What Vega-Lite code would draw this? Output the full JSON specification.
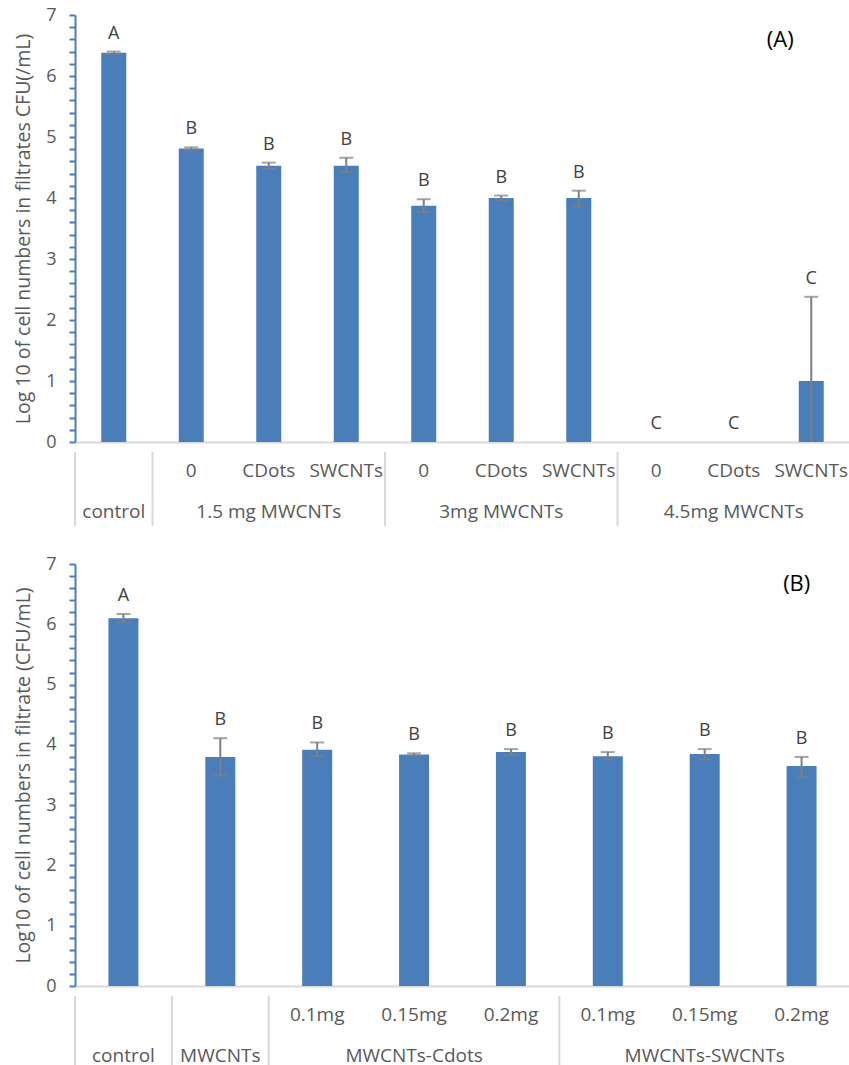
{
  "$schema": "https://vega.github.io/schema/vega-lite/v6.json",
  "autosize": {"type": "pad"},
  "padding": {"left": 13, "top": 6, "right": 0, "bottom": 0},
  "background": "white",
  "config": {
    "font": "Open Sans",
    "view": {"stroke": null}
  },
  "datasets": {
    "barsA": [
      {"cat": "control", "value": 6.38, "lo": 6.36, "hi": 6.40, "sig": "A"},
      {"cat": "1.5|0", "value": 4.81, "lo": 4.79, "hi": 4.83, "sig": "B"},
      {"cat": "1.5|CDots", "value": 4.53, "lo": 4.48, "hi": 4.58, "sig": "B"},
      {"cat": "1.5|SWCNTs", "value": 4.53, "lo": 4.42, "hi": 4.66, "sig": "B"},
      {"cat": "3|0", "value": 3.875, "lo": 3.77, "hi": 3.98, "sig": "B"},
      {"cat": "3|CDots", "value": 4.0, "lo": 3.96, "hi": 4.04, "sig": "B"},
      {"cat": "3|SWCNTs", "value": 4.0, "lo": 3.86, "hi": 4.12, "sig": "B"},
      {"cat": "4.5|0", "value": 0, "lo": 0, "hi": 0, "sig": "C"},
      {"cat": "4.5|CDots", "value": 0, "lo": 0, "hi": 0, "sig": "C"},
      {"cat": "4.5|SWCNTs", "value": 1.0, "lo": -0.38, "hi": 2.38, "sig": "C"}
    ],
    "tableA": [
      {"cat": "control", "level": "grp", "text": "control"},
      {"cat": "1.5|0", "level": "sub", "text": "0"},
      {"cat": "1.5|CDots", "level": "sub", "text": "CDots"},
      {"cat": "1.5|SWCNTs", "level": "sub", "text": "SWCNTs"},
      {"cat": "1.5|CDots", "level": "grp", "text": "1.5 mg MWCNTs"},
      {"cat": "3|0", "level": "sub", "text": "0"},
      {"cat": "3|CDots", "level": "sub", "text": "CDots"},
      {"cat": "3|SWCNTs", "level": "sub", "text": "SWCNTs"},
      {"cat": "3|CDots", "level": "grp", "text": "3mg MWCNTs"},
      {"cat": "4.5|0", "level": "sub", "text": "0"},
      {"cat": "4.5|CDots", "level": "sub", "text": "CDots"},
      {"cat": "4.5|SWCNTs", "level": "sub", "text": "SWCNTs"},
      {"cat": "4.5|CDots", "level": "grp", "text": "4.5mg MWCNTs"}
    ],
    "sepA": [
      {"cat": "control"}, {"cat": "1.5|0"}, {"cat": "3|0"}, {"cat": "4.5|0"}
    ],
    "barsB": [
      {"cat": "control", "value": 6.1, "lo": 6.03, "hi": 6.17, "sig": "A"},
      {"cat": "MWCNTs", "value": 3.8, "lo": 3.49, "hi": 4.11, "sig": "B"},
      {"cat": "Cdots|0.1", "value": 3.92, "lo": 3.81, "hi": 4.04, "sig": "B"},
      {"cat": "Cdots|0.15", "value": 3.84, "lo": 3.82, "hi": 3.86, "sig": "B"},
      {"cat": "Cdots|0.2", "value": 3.88, "lo": 3.83, "hi": 3.93, "sig": "B"},
      {"cat": "SW|0.1", "value": 3.81, "lo": 3.76, "hi": 3.88, "sig": "B"},
      {"cat": "SW|0.15", "value": 3.85, "lo": 3.76, "hi": 3.93, "sig": "B"},
      {"cat": "SW|0.2", "value": 3.65, "lo": 3.46, "hi": 3.8, "sig": "B"}
    ],
    "tableB": [
      {"cat": "control", "level": "grp", "text": "control"},
      {"cat": "MWCNTs", "level": "grp", "text": "MWCNTs"},
      {"cat": "Cdots|0.1", "level": "sub", "text": "0.1mg"},
      {"cat": "Cdots|0.15", "level": "sub", "text": "0.15mg"},
      {"cat": "Cdots|0.2", "level": "sub", "text": "0.2mg"},
      {"cat": "Cdots|0.15", "level": "grp", "text": "MWCNTs-Cdots"},
      {"cat": "SW|0.1", "level": "sub", "text": "0.1mg"},
      {"cat": "SW|0.15", "level": "sub", "text": "0.15mg"},
      {"cat": "SW|0.2", "level": "sub", "text": "0.2mg"},
      {"cat": "SW|0.15", "level": "grp", "text": "MWCNTs-SWCNTs"}
    ],
    "sepB": [
      {"cat": "control"}, {"cat": "MWCNTs"}, {"cat": "Cdots|0.1"}, {"cat": "SW|0.1"}
    ]
  },
  "spacing": 28,
  "vconcat": [
    {
      "spacing": 0,
      "vconcat": [
        {
          "width": 775,
          "height": 427,
          "data": {"name": "barsA"},
          "layer": [
            {
              "mark": {"type": "bar", "color": "#4a7ebb", "size": 25},
              "encoding": {
                "x": {"field": "cat", "type": "nominal", "sort": null,
                  "scale": {"domain": ["control", "1.5|0", "1.5|CDots", "1.5|SWCNTs", "3|0", "3|CDots", "3|SWCNTs", "4.5|0", "4.5|CDots", "4.5|SWCNTs"], "paddingInner": 0, "paddingOuter": 0},
                  "axis": {"labels": false, "ticks": false, "title": null, "domainColor": "#d9d9d9", "domainWidth": 2}},
                "y": {"field": "value", "type": "quantitative",
                  "scale": {"domain": [0, 7], "nice": false},
                  "axis": {
                    "title": "Log 10 of cell numbers in filtrates CFU(/mL)",
                    "values": [0, 0.2, 0.4, 0.6, 0.8, 1, 1.2, 1.4, 1.6, 1.8, 2, 2.2, 2.4, 2.6, 2.8, 3, 3.2, 3.4, 3.6, 3.8, 4, 4.2, 4.4, 4.6, 4.8, 5, 5.2, 5.4, 5.6, 5.8, 6, 6.2, 6.4, 6.6, 6.8, 7],
                    "tickCount": 100,
                    "labelExpr": "datum.value % 1 === 0 ? '' + datum.value : ''",
                    "labelOverlap": false,
                    "labelFlush": false,
                    "grid": false,
                    "domainColor": "#4a7ebb", "domainWidth": 2,
                    "tickColor": "#4a7ebb", "tickWidth": 2, "tickSize": 6,
                    "labelFontSize": 18, "labelColor": "#595959", "labelPadding": 13,
                    "titleFontSize": 19.5, "titleColor": "#595959", "titleFontWeight": "normal", "titlePadding": 12
                  }}
              }
            },
            {
              "transform": [{"filter": "datum.hi > datum.lo"}],
              "mark": {"type": "rule", "color": "#7f7f7f", "strokeWidth": 2, "clip": true},
              "encoding": {
                "x": {"field": "cat", "type": "nominal", "sort": null},
                "y": {"field": "lo", "type": "quantitative"},
                "y2": {"field": "hi"}
              }
            },
            {
              "transform": [{"filter": "datum.hi > datum.lo"}],
              "mark": {"type": "tick", "color": "#7f7f7f", "thickness": 2, "size": 14, "orient": "horizontal", "clip": true},
              "encoding": {
                "x": {"field": "cat", "type": "nominal", "sort": null},
                "y": {"field": "hi", "type": "quantitative"}
              }
            },
            {
              "transform": [{"filter": "datum.hi > datum.lo"}],
              "mark": {"type": "tick", "color": "#7f7f7f", "thickness": 2, "size": 14, "orient": "horizontal", "clip": true},
              "encoding": {
                "x": {"field": "cat", "type": "nominal", "sort": null},
                "y": {"field": "lo", "type": "quantitative"}
              }
            },
            {
              "mark": {"type": "text", "fontSize": 18, "color": "#404040", "baseline": "middle", "dy": -18},
              "encoding": {
                "x": {"field": "cat", "type": "nominal", "sort": null},
                "y": {"field": "hi", "type": "quantitative"},
                "text": {"field": "sig"}
              }
            },
            {
              "data": {"values": [{"panel": "(A)"}]},
              "mark": {"type": "text", "fontSize": 22, "color": "#000000", "baseline": "middle"},
              "encoding": {
                "x": {"datum": "4.5|SWCNTs", "type": "nominal", "bandPosition": 0.1},
                "y": {"datum": 6.59, "type": "quantitative"},
                "text": {"field": "panel"}
              }
            }
          ]
        },
        {
          "width": 775,
          "height": 74,
          "layer": [
            {
              "data": {"name": "sepA"},
              "mark": {"type": "rule", "color": "#d9d9d9", "strokeWidth": 2},
              "encoding": {
                "x": {"field": "cat", "type": "nominal", "sort": null, "bandPosition": 0,
                  "scale": {"domain": ["control", "1.5|0", "1.5|CDots", "1.5|SWCNTs", "3|0", "3|CDots", "3|SWCNTs", "4.5|0", "4.5|CDots", "4.5|SWCNTs"], "paddingInner": 0, "paddingOuter": 0},
                  "axis": null}
              }
            },
            {
              "data": {"name": "tableA"},
              "mark": {"type": "text", "fontSize": 19, "color": "#595959", "baseline": "middle"},
              "encoding": {
                "x": {"field": "cat", "type": "nominal", "sort": null, "axis": null},
                "y": {"field": "level", "type": "nominal",
                  "scale": {"type": "point", "domain": ["sub", "grp"], "padding": 0.4024, "align": 0.576},
                  "axis": null},
                "text": {"field": "text"}
              }
            }
          ]
        }
      ]
    },
    {
      "spacing": 0,
      "vconcat": [
        {
          "width": 775,
          "height": 422,
          "data": {"name": "barsB"},
          "layer": [
            {
              "mark": {"type": "bar", "color": "#4a7ebb", "size": 30},
              "encoding": {
                "x": {"field": "cat", "type": "nominal", "sort": null,
                  "scale": {"domain": ["control", "MWCNTs", "Cdots|0.1", "Cdots|0.15", "Cdots|0.2", "SW|0.1", "SW|0.15", "SW|0.2"], "paddingInner": 0, "paddingOuter": 0},
                  "axis": {"labels": false, "ticks": false, "title": null, "domainColor": "#d9d9d9", "domainWidth": 2}},
                "y": {"field": "value", "type": "quantitative",
                  "scale": {"domain": [0, 7], "nice": false},
                  "axis": {
                    "title": "Log10 of cell numbers in filtrate (CFU/mL)",
                    "values": [0, 0.2, 0.4, 0.6, 0.8, 1, 1.2, 1.4, 1.6, 1.8, 2, 2.2, 2.4, 2.6, 2.8, 3, 3.2, 3.4, 3.6, 3.8, 4, 4.2, 4.4, 4.6, 4.8, 5, 5.2, 5.4, 5.6, 5.8, 6, 6.2, 6.4, 6.6, 6.8, 7],
                    "tickCount": 100,
                    "labelExpr": "datum.value % 1 === 0 ? '' + datum.value : ''",
                    "labelOverlap": false,
                    "labelFlush": false,
                    "grid": false,
                    "domainColor": "#4a7ebb", "domainWidth": 2,
                    "tickColor": "#4a7ebb", "tickWidth": 2, "tickSize": 6,
                    "labelFontSize": 18, "labelColor": "#595959", "labelPadding": 13,
                    "titleFontSize": 19.5, "titleColor": "#595959", "titleFontWeight": "normal", "titlePadding": 12
                  }}
              }
            },
            {
              "transform": [{"filter": "datum.hi > datum.lo"}],
              "mark": {"type": "rule", "color": "#7f7f7f", "strokeWidth": 2, "clip": true},
              "encoding": {
                "x": {"field": "cat", "type": "nominal", "sort": null},
                "y": {"field": "lo", "type": "quantitative"},
                "y2": {"field": "hi"}
              }
            },
            {
              "transform": [{"filter": "datum.hi > datum.lo"}],
              "mark": {"type": "tick", "color": "#7f7f7f", "thickness": 2, "size": 14, "orient": "horizontal", "clip": true},
              "encoding": {
                "x": {"field": "cat", "type": "nominal", "sort": null},
                "y": {"field": "hi", "type": "quantitative"}
              }
            },
            {
              "transform": [{"filter": "datum.hi > datum.lo"}],
              "mark": {"type": "tick", "color": "#7f7f7f", "thickness": 2, "size": 14, "orient": "horizontal", "clip": true},
              "encoding": {
                "x": {"field": "cat", "type": "nominal", "sort": null},
                "y": {"field": "lo", "type": "quantitative"}
              }
            },
            {
              "mark": {"type": "text", "fontSize": 18, "color": "#404040", "baseline": "middle", "dy": -18},
              "encoding": {
                "x": {"field": "cat", "type": "nominal", "sort": null},
                "y": {"field": "hi", "type": "quantitative"},
                "text": {"field": "sig"}
              }
            },
            {
              "data": {"values": [{"panel": "(B)"}]},
              "mark": {"type": "text", "fontSize": 22, "color": "#000000", "baseline": "middle"},
              "encoding": {
                "x": {"datum": "SW|0.2", "type": "nominal", "bandPosition": 0.45},
                "y": {"datum": 6.66, "type": "quantitative"},
                "text": {"field": "panel"}
              }
            }
          ]
        },
        {
          "width": 775,
          "height": 74,
          "layer": [
            {
              "data": {"name": "sepB"},
              "mark": {"type": "rule", "color": "#d9d9d9", "strokeWidth": 2},
              "encoding": {
                "x": {"field": "cat", "type": "nominal", "sort": null, "bandPosition": 0,
                  "scale": {"domain": ["control", "MWCNTs", "Cdots|0.1", "Cdots|0.15", "Cdots|0.2", "SW|0.1", "SW|0.15", "SW|0.2"], "paddingInner": 0, "paddingOuter": 0},
                  "axis": null}
              }
            },
            {
              "data": {"name": "tableB"},
              "mark": {"type": "text", "fontSize": 19, "color": "#595959", "baseline": "middle"},
              "encoding": {
                "x": {"field": "cat", "type": "nominal", "sort": null, "axis": null},
                "y": {"field": "level", "type": "nominal",
                  "scale": {"type": "point", "domain": ["sub", "grp"], "padding": 0.4024, "align": 0.576},
                  "axis": null},
                "text": {"field": "text"}
              }
            }
          ]
        }
      ]
    }
  ]
}
